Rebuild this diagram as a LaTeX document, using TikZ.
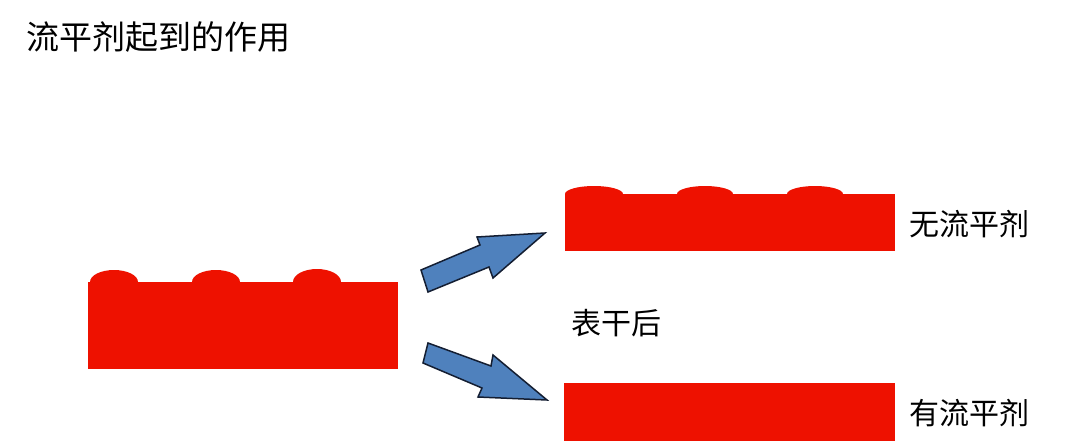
\documentclass[tikz,border=0pt]{standalone}
\usepackage{fontspec}
\newfontfamily\cjk{Noto Sans CJK SC}
\definecolor{paintred}{RGB}{238,17,0}
\definecolor{arrowblue}{RGB}{79,129,189}
\definecolor{arrowedge}{RGB}{20,30,50}
\tikzset{
  layer/.style={fill=paintred, draw=none},
  bigarrow/.style={fill=arrowblue, draw=arrowedge, line width=1.5pt, line join=miter},
  lbl/.style={font=\cjk\fontsize{30pt}{32pt}\selectfont, text=black, inner sep=0pt, anchor=west},
}
\begin{document}
\begin{tikzpicture}[x=1pt,y=-1pt]
\useasboundingbox (0,0) rectangle (1080,444);
\fill[white] (0,0) rectangle (1080,444);
% title
\node[lbl, font=\cjk\fontsize{33pt}{35pt}\selectfont] (title) at (26,37) {流平剂起到的作用};
% left layer (before drying)
\fill[layer] (88,282) rectangle (398,369);
\fill[layer] (114,282) ellipse [x radius=24, y radius=12];
\fill[layer] (216,282) ellipse [x radius=24, y radius=12];
\fill[layer] (317,282) ellipse [x radius=24, y radius=13];
% top right layer (without leveling agent)
\fill[layer] (565,194) rectangle (895,251);
\begin{scope}
\clip (565,150) rectangle (895,251);
\fill[layer] (594,194) ellipse [x radius=29, y radius=8];
\end{scope}
\fill[layer] (705,194) ellipse [x radius=28, y radius=8];
\fill[layer] (815,194) ellipse [x radius=28, y radius=8];
% bottom right layer (with leveling agent)
\fill[layer] (564,383) rectangle (895,441);
% arrows
\draw[bigarrow] (421,270) -- (480,245) -- (477,237) -- (545,233) -- (493,278) -- (489,267) -- (428,292) -- cycle;
\draw[bigarrow] (428,343) -- (491,366) -- (493,355) -- (547,400) -- (478,397) -- (482,388) -- (423,363) -- cycle;
% labels
\node[lbl] (without) at (909,224) {无流平剂};
\node[lbl] (dry) at (571,323) {表干后};
\node[lbl] (with) at (909,413) {有流平剂};
\end{tikzpicture}
\end{document}
